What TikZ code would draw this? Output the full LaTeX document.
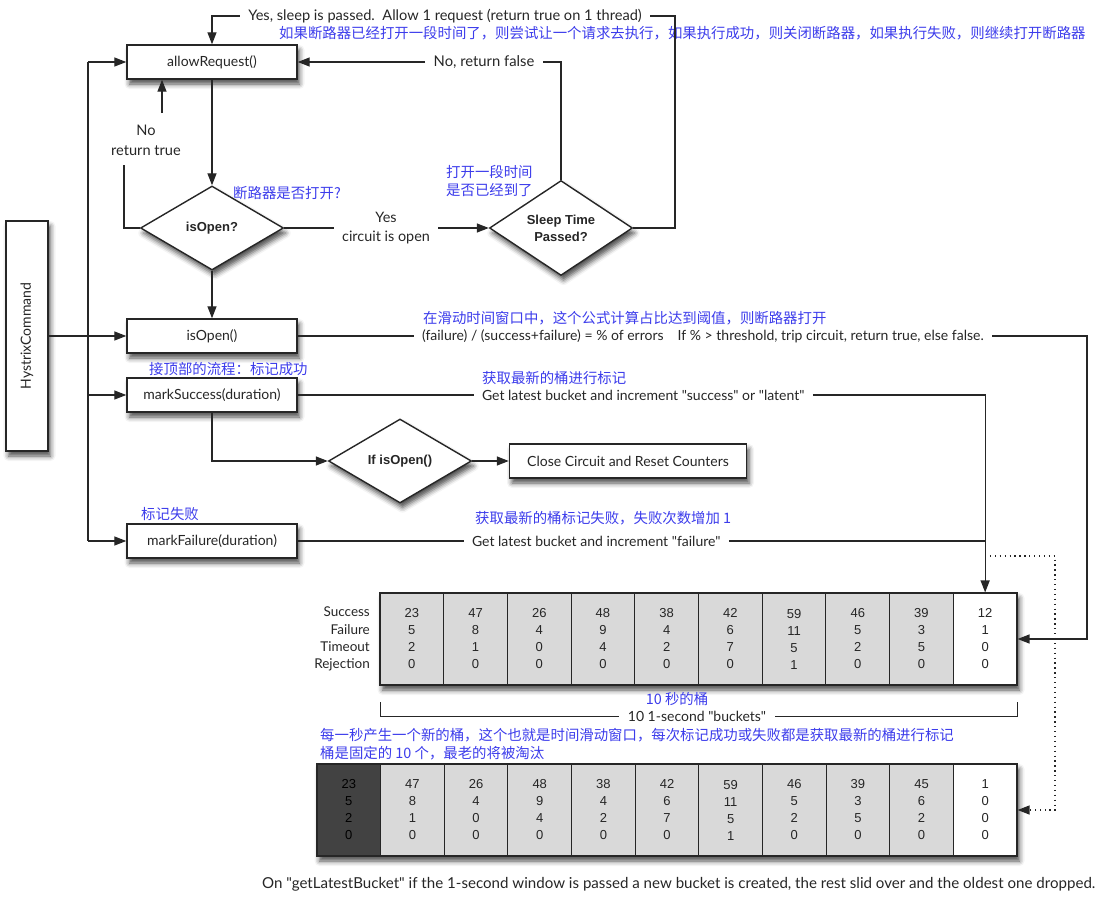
\documentclass[tikz,border=0pt]{standalone}
\usepackage{fontspec}
\setmainfont{Lato}[Ligatures=TeXOff]
\newfontfamily\cjk{Noto Sans CJK SC}
\newfontfamily\hv{Liberation Sans}
\usetikzlibrary{arrows.meta,shapes.geometric,shadows.blur,calc}
\definecolor{cnblue}{RGB}{60,60,235}
\definecolor{cellgray}{RGB}{217,217,217}
\definecolor{celldark}{RGB}{66,66,66}
\definecolor{ink}{RGB}{38,38,38}
\begin{document}
\begin{tikzpicture}[x=1pt,y=-1pt,
  every node/.style={font=\fontsize{14}{17}\selectfont, text=ink},
  ln/.style={line width=1.3pt, draw=ink},
  arr/.style={ln, -{Triangle[length=12pt,width=9pt]}},
  shad/.style={blur shadow={shadow xshift=2.5pt, shadow yshift=-5pt, shadow blur radius=5pt, shadow opacity=70}},
  box/.style={draw=ink, line width=1.4pt, fill=white, minimum width=170pt, minimum height=34pt, inner sep=0pt, shad},
  dia/.style={diamond, draw=ink, line width=1.4pt, fill=white, minimum width=143pt, minimum height=84pt, inner sep=0pt, shad, font=\hv\bfseries\fontsize{13}{17}\selectfont, align=center},
  lbl/.style={inner sep=0pt, outer sep=8.5pt},
  cn/.style={font=\cjk\fontsize{14.4}{18}\selectfont, text=cnblue, inner sep=0pt, anchor=west},
  cell/.style={draw=ink, line width=1.1pt, minimum width=63.7pt, minimum height=92pt, inner sep=0pt, align=center, font=\hv\fontsize{13}{17}\selectfont},
  dots/.style={line width=1.3pt, draw=ink, dash pattern=on 1.3pt off 3.6pt},
]
\useasboundingbox (0,0) rectangle (1104,897);

% main boxes
\node[box, minimum width=42pt, minimum height=230pt] (cmd) at (27,336) {};
\node[rotate=90, inner sep=0pt] (cmdt) at (cmd.center) {HystrixCommand};
\node[box] (allow) at (212,62) {allowRequest()};
\node[dia] (isod) at (212,228) {isOpen?};
\node[dia] (sleep) at (561,228) {Sleep Time\\Passed?};
\node[box] (isob) at (212,336) {isOpen()};
\node[box] (marks) at (212,395) {markSuccess(duration)};
\node[dia] (ifd) at (400,461) {If isOpen()};
\node[box, minimum width=237pt] (close) at (628,461) {Close Circuit and Reset Counters};
\node[box] (markf) at (212,541) {markFailure(duration)};

% labels on connectors
\node[lbl, font=\fontsize{14.6}{17}\selectfont] (yestop) at (445,16) {Yes, sleep is passed.\ \ Allow 1 request (return true on 1 thread)};
\node[lbl, font=\fontsize{14.8}{17}\selectfont] (nofalse) at (484,62) {No, return false};
\node[lbl, align=center, font=\fontsize{14.6}{20}\selectfont] (notrue) at (146,140) {No\\return true};
\node[lbl, align=center, font=\fontsize{14.4}{19}\selectfont] (yescirc) at (386,228) {Yes\\circuit is open};
\node[lbl, anchor=west] (formula) at (413.5,336) {(failure) / (success+failure) = \% of errors\quad If \% > threshold, trip circuit, return true, else false.};
\node[lbl, anchor=west] (gets) at (473.5,395) {Get latest bucket and increment "success" or "latent"};
\node[lbl, anchor=west] (getf) at (463.5,541) {Get latest bucket and increment "failure"};

% buckets row 1
\node[draw=ink, line width=1.4pt, fill=white, minimum width=637pt, minimum height=92pt, inner sep=0pt, shad] (row1) at (698.5,639) {};
\foreach \a/\b/\c/\d [count=\i] in {23/5/2/0,47/8/1/0,26/4/0/0,48/9/4/0,38/4/2/0,42/6/7/0,59/11/5/1,46/5/2/0,39/3/5/0}{
  \node[cell, fill=cellgray] (a\i) at ({380+(\i-0.5)*63.7},639) {\a\\\b\\\c\\\d};
}
\node[cell, fill=white] (a10) at ({380+9.5*63.7},639) {12\\1\\0\\0};
\node[anchor=east, align=right, inner sep=0pt, font=\fontsize{13.5}{17.3}\selectfont] (rowlbl) at (370,639) {Success\\Failure\\Timeout\\Rejection};

% bracket
\node[lbl] (bk) at (697,716) {10 1-second "buckets"};
\coordinate (bkL) at (380,702);
\coordinate (bkR) at (1017,702);
\draw[line width=0.9pt, draw=ink] (bkL) |- (bk.west);
\draw[line width=0.9pt, draw=ink] (bkR) |- (bk.east);

% buckets row 2
\node[draw=ink, line width=1.4pt, fill=white, minimum width=700pt, minimum height=92pt, inner sep=0pt, shad] (row2) at (667,810) {};
\node[cell, fill=celldark, text=black, minimum width=63.64pt] (b1) at ({317+0.5*63.64},810) {23\\5\\2\\0};
\foreach \a/\b/\c/\d [count=\i from 2] in {47/8/1/0,26/4/0/0,48/9/4/0,38/4/2/0,42/6/7/0,59/11/5/1,46/5/2/0,39/3/5/0,45/6/2/0}{
  \node[cell, fill=cellgray, minimum width=63.64pt] (b\i) at ({317+(\i-0.5)*63.64},810) {\a\\\b\\\c\\\d};
}
\node[cell, fill=white, minimum width=63.64pt] (b11) at ({317+10.5*63.64},810) {1\\0\\0\\0};

\node[anchor=west, inner sep=0pt, font=\fontsize{15.1}{18}\selectfont] (cap) at (262,884) {On "getLatestBucket" if the 1-second window is passed a new bucket is created, the rest slid over and the oldest one dropped.};

% blue annotations
\node[cn] (c1) at (279,33) {如果断路器已经打开一段时间了，则尝试让一个请求去执行，如果执行成功，则关闭断路器，如果执行失败，则继续打开断路器};
\node[cn] (c2) at (233,193) {断路器是否打开?};
\node[cn, align=left] (c3) at (446,181) {打开一段时间\\是否已经到了};
\node[cn] (c4) at (423,318) {在滑动时间窗口中，这个公式计算占比达到阈值，则断路器打开};
\node[cn] (c5) at (149,369) {接顶部的流程：标记成功};
\node[cn] (c6) at (482,378) {获取最新的桶进行标记};
\node[cn] (c7) at (141,514) {标记失败};
\node[cn] (c8) at (475,518) {获取最新的桶标记失败，失败次数增加 1};
\node[cn, anchor=center] (c9) at (677,699) {10 秒的桶};
\node[cn] (c10) at (320,735) {每一秒产生一个新的桶，这个也就是时间滑动窗口，每次标记成功或失败都是获取最新的桶进行标记};
\node[cn] (c11) at (320,753) {桶是固定的 10 个，最老的将被淘汰};

% connectors
\coordinate (bbT) at (88,62);
\coordinate (bbB) at (88,541);
\draw[ln] (bbT) -- (bbB);
\draw[arr] (bbT) -- (allow.west);
\draw[arr] (marks.west -| bbT) -- (marks.west);
\draw[arr] (bbB) -- (markf.west);
\draw[arr] (cmd.east |- isob.west) -- (isob.west);

\draw[arr] (allow.south) -- (isod.north);
\draw[arr] (isod.south) -- (isob.north);
\coordinate (ntA) at (124,165);
\draw[ln] (isod.west) -| (ntA);
\coordinate (ntB) at (162,113);
\draw[arr] (ntB) -- (ntB |- allow.south);

\draw[ln] (isod.east) -- (yescirc.west);
\draw[arr] (yescirc.east) -- (sleep.west);
\coordinate (xTop) at (675,228);
\draw[ln] (sleep.east) -- (xTop) |- (yestop.east);
\draw[arr] (yestop.west) -| (allow.north);
\draw[ln] (sleep.north) |- (nofalse.east);
\draw[arr] (nofalse.west) -- (allow.east);

\draw[ln] (isob.east) -- (formula.west);
\coordinate (xR) at (1087,0);
\draw[arr] (formula.east) -- (formula.east -| xR) |- (a10.east);

\draw[ln] (marks.east) -- (gets.west);
\draw[arr] (gets.east) -| (a10.north);
\draw[ln] (markf.east) -- (getf.west);
\draw[ln] (getf.east) -- (getf.east -| a10.north);

\draw[arr] (marks.south) |- (ifd.west);
\draw[arr] (ifd.east) -- (close.west);

\coordinate (d0) at (985,556);
\coordinate (d1) at (1055,556);
\draw[dots, -{Triangle[length=12pt,width=9pt]}] (d0) -- (d1) |- (b11.east);
\end{tikzpicture}
\end{document}
